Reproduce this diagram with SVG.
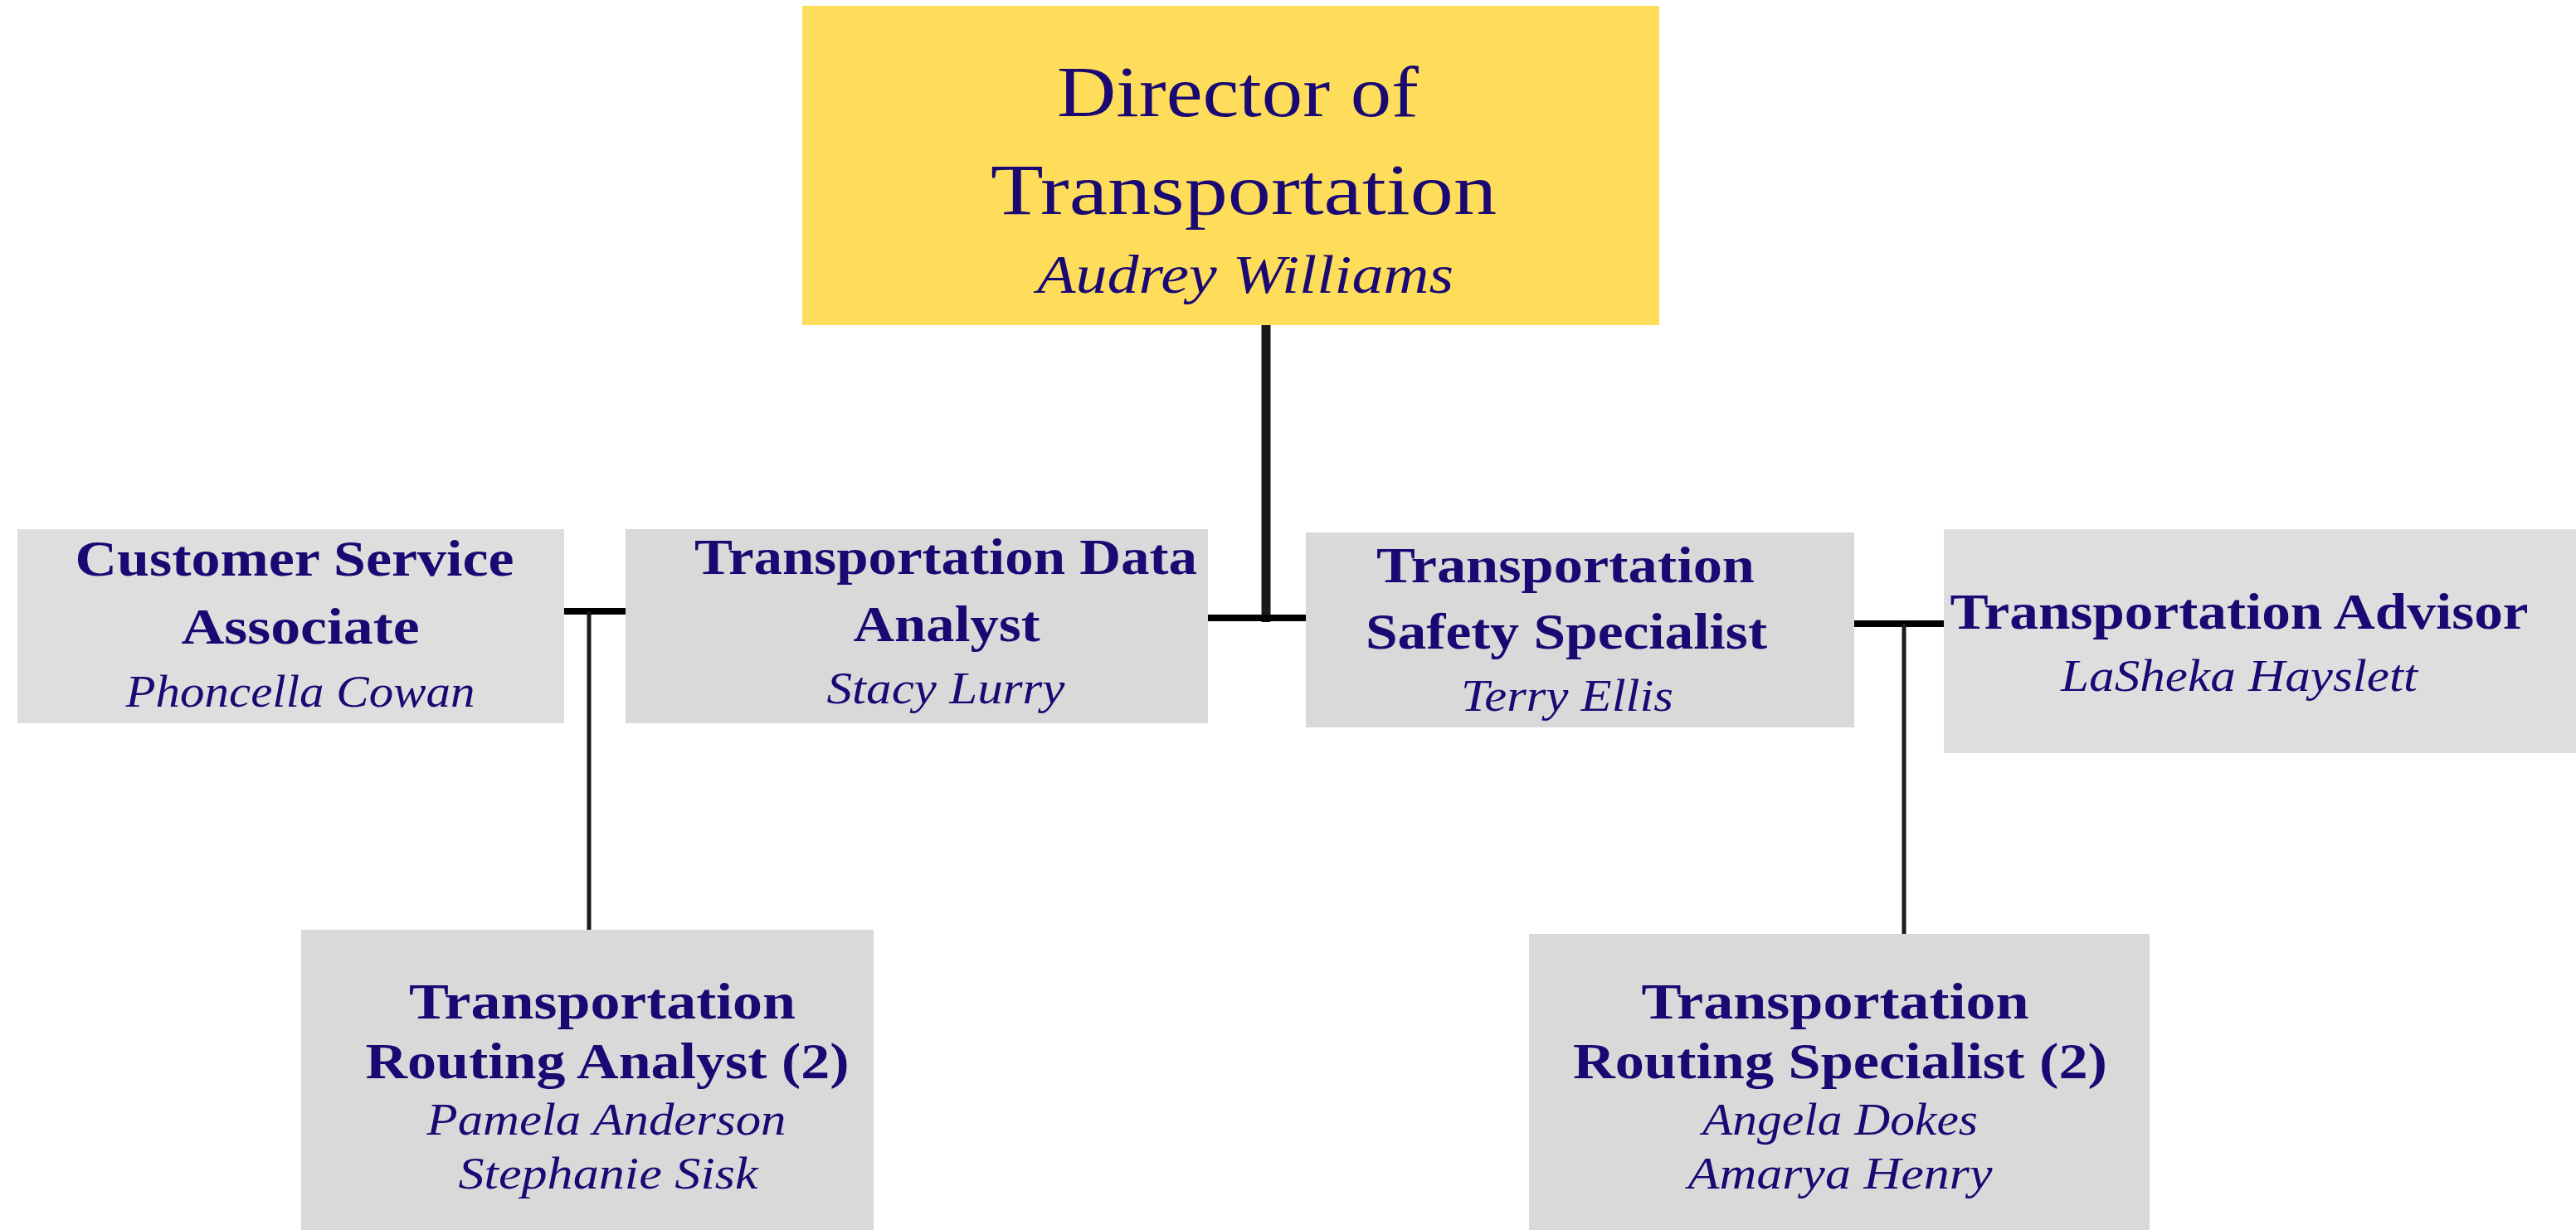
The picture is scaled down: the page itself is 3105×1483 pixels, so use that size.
<svg xmlns="http://www.w3.org/2000/svg" width="3105" height="1483" viewBox="0 0 3105 1483">
<style>
.box{fill:#D9D9D9}
.boxl{fill:#DEDEDE}
.top{fill:#FEDD5B}
text{fill:#1A0873;text-anchor:middle;font-family:"Liberation Serif","DejaVu Serif",serif}
.t{font-weight:bold;font-size:62px}
.n{font-style:italic;font-size:54px}
.dt{font-size:86px}
.dn{font-style:italic;font-size:66px}
.thick{stroke:#000;stroke-width:8;fill:none}
.vthick{stroke:#1a1a1a;stroke-width:11;fill:none}
.thin{stroke:#1a1a1a;stroke-width:5;fill:none}
</style>
<rect width="3105" height="1483" fill="#fff"/>
<g id="connectors">
<line class="vthick" x1="1526" y1="392" x2="1526" y2="750"/>
<line class="thick" x1="1456" y1="745" x2="1574" y2="745"/>
<line class="thick" x1="680" y1="737" x2="754" y2="737"/>
<line class="thin" x1="710" y1="737" x2="710" y2="1121"/>
<line class="thick" x1="2234" y1="752" x2="2343" y2="752"/>
<line class="thin" x1="2295" y1="752" x2="2295" y2="1126"/>
</g>
<g id="director">
<rect class="top" x="967" y="7" width="1033" height="385"/>
<text class="dt" x="1492" y="140" textLength="436" lengthAdjust="spacingAndGlyphs">Director of</text>
<text class="dt" x="1499" y="258" textLength="610" lengthAdjust="spacingAndGlyphs">Transportation</text>
<text class="dn" x="1501" y="353" textLength="502" lengthAdjust="spacingAndGlyphs">Audrey Williams</text>
</g>
<g id="customer-service">
<rect class="boxl" x="21" y="638" width="659" height="234"/>
<text class="t" x="355" y="694" textLength="529" lengthAdjust="spacingAndGlyphs">Customer Service</text>
<text class="t" x="362" y="776" textLength="287" lengthAdjust="spacingAndGlyphs">Associate</text>
<text class="n" x="362" y="852" textLength="421" lengthAdjust="spacingAndGlyphs">Phoncella Cowan</text>
</g>
<g id="data-analyst">
<rect class="box" x="754" y="638" width="702" height="234"/>
<text class="t" x="1140" y="692" textLength="606" lengthAdjust="spacingAndGlyphs">Transportation Data</text>
<text class="t" x="1141" y="773" textLength="225" lengthAdjust="spacingAndGlyphs">Analyst</text>
<text class="n" x="1140" y="848" textLength="287" lengthAdjust="spacingAndGlyphs">Stacy Lurry</text>
</g>
<g id="safety-specialist">
<rect class="box" x="1574" y="642" width="661" height="235"/>
<text class="t" x="1887" y="702" textLength="456" lengthAdjust="spacingAndGlyphs">Transportation</text>
<text class="t" x="1888" y="782" textLength="484" lengthAdjust="spacingAndGlyphs">Safety Specialist</text>
<text class="n" x="1889" y="857" textLength="256" lengthAdjust="spacingAndGlyphs">Terry Ellis</text>
</g>
<g id="advisor">
<rect class="boxl" x="2343" y="638" width="762" height="270"/>
<text class="t" x="2699" y="758" textLength="697" lengthAdjust="spacingAndGlyphs">Transportation Advisor</text>
<text class="n" x="2699" y="833" textLength="430" lengthAdjust="spacingAndGlyphs">LaSheka Hayslett</text>
</g>
<g id="routing-analyst">
<rect class="box" x="363" y="1121" width="690" height="362"/>
<text class="t" x="726" y="1228" textLength="466" lengthAdjust="spacingAndGlyphs">Transportation</text>
<text class="t" x="732" y="1300" textLength="583" lengthAdjust="spacingAndGlyphs">Routing Analyst (2)</text>
<text class="n" x="731" y="1368" textLength="433" lengthAdjust="spacingAndGlyphs">Pamela Anderson</text>
<text class="n" x="733" y="1433" textLength="361" lengthAdjust="spacingAndGlyphs">Stephanie Sisk</text>
</g>
<g id="routing-specialist">
<rect class="box" x="1843" y="1126" width="748" height="357"/>
<text class="t" x="2212" y="1228" textLength="467" lengthAdjust="spacingAndGlyphs">Transportation</text>
<text class="t" x="2218" y="1300" textLength="644" lengthAdjust="spacingAndGlyphs">Routing Specialist (2)</text>
<text class="n" x="2218" y="1368" textLength="332" lengthAdjust="spacingAndGlyphs">Angela Dokes</text>
<text class="n" x="2218" y="1433" textLength="367" lengthAdjust="spacingAndGlyphs">Amarya Henry</text>
</g>
</svg>
